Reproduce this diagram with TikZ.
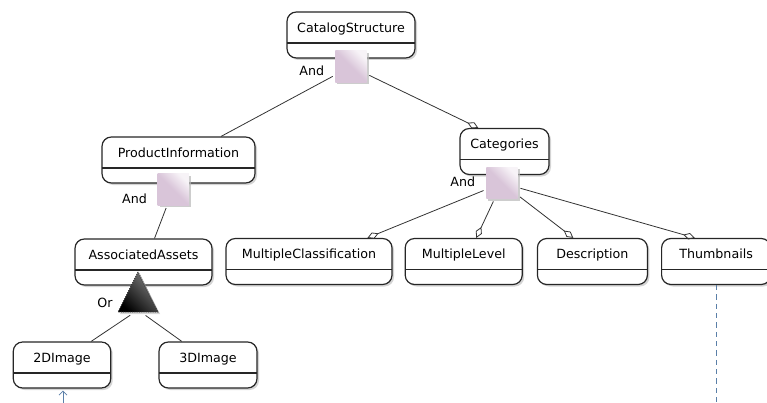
\documentclass[tikz,border=0pt]{standalone}
\usepackage{fontspec}
\setmainfont{DejaVu Sans}
\usepackage{tikz}
\usetikzlibrary{arrows.meta,positioning,shadows}
\definecolor{gatelilac}{HTML}{D9C5D9}
\definecolor{shadegrey}{HTML}{B8B8B8}
\definecolor{linkblue}{HTML}{5A7FA8}

\begin{document}
\begin{tikzpicture}[
  x=0.75pt,y=-0.75pt,
  node distance=5mm and 9.5pt,
  feature/.style={draw=black!85,line width=0.9pt,rounded corners=7pt,fill=white,
                  minimum height=34.5pt,text height=7.5pt,text depth=11.8pt,inner xsep=0pt,
                  font=\fontsize{9.5}{11}\selectfont,
                  drop shadow={shadow xshift=1.5pt,shadow yshift=-1.5pt,fill=shadegrey,opacity=0.6},
                  path picture={\draw[line width=0.9pt]
                    ([yshift=11.25pt]path picture bounding box.south west) --
                    ([yshift=11.25pt]path picture bounding box.south east);}},
  gate/.style={minimum size=23.5pt,inner sep=0pt,top color=gatelilac!20,bottom color=gatelilac,
               middle color=gatelilac,shading angle=-45,
               drop shadow={shadow xshift=1.5pt,shadow yshift=-1.5pt,fill=shadegrey,opacity=0.7}},
  orgate/.style={top color=black!50,bottom color=black,shading angle=-45,
                 draw=black!80,densely dotted,line width=0.7pt,
                 drop shadow={shadow xshift=1.5pt,shadow yshift=-1.5pt,fill=shadegrey,opacity=0.6}},
  gatelbl/.style={inner sep=0pt,font=\fontsize{9.5}{11}\selectfont},
  link/.style={draw=black!80,line width=0.6pt,shorten <=2pt},
  opt/.style={link,-{Diamond[open,length=9pt,width=5pt]}},
  dep/.style={draw=linkblue,line width=0.6pt}
]
\useasboundingbox (0,0) rectangle (767,403);

% root
\node[feature,minimum width=96pt] (cs) at (351,35) {CatalogStructure};
\node[gate,below=-6pt of cs] (sqCS) {};
\node[gatelbl,left=8pt of sqCS,yshift=-3pt] (andCS) {And};

% left branch
\node[feature,minimum width=114.75pt] (pi) at (178.5,160) {ProductInformation};
\node[gate,below=-7.5pt of pi,xshift=-4pt] (sqPI) {};
\node[gatelbl,left=7.5pt of sqPI,yshift=-6.75pt] (andPI) {And};
\node[feature,minimum width=102.75pt] (aa) at (143.5,262) {AssociatedAssets};
% or-group triangle
\coordinate (orTop) at (138,272);
\coordinate (orLeft) at (118,312);
\coordinate (orRight) at (158,312);
\coordinate (orAA) at (138,310);
\path[orgate] (orTop) -- (orLeft) -- (orRight) -- cycle;
\node[gatelbl] (orLbl) at (105,303) {Or};
\node[feature,minimum width=73.1pt] (img2) at (62,365) {2DImage};
\node[feature,minimum width=73.5pt] (img3) at (208,365) {3DImage};

% right branch
\node[feature,minimum width=66.75pt] (cat) at (504.5,151.5) {Categories};
\node[gate,below=-6pt of cat,xshift=-1.9pt] (sqCat) {};
\node[gatelbl,left=8pt of sqCat,yshift=0.75pt] (andCat) {And};
\node[feature,minimum width=124.5pt] (mc) at (309,261.5) {MultipleClassification};
\node[feature,minimum width=87.75pt,right=9pt of mc] (ml) {MultipleLevel};
\node[feature,minimum width=82.5pt,right=10.5pt of ml] (desc) {Description};
\node[feature,minimum width=81.75pt,right=9.75pt of desc] (thumb) {Thumbnails};

\draw[link] (sqCS) -- (pi.29);
\draw[opt] (sqCS) -- (cat.138);
\draw[link] (sqPI) -- (aa.65);
\draw[link,shorten <=7pt] (orAA) -- (img2.39);
\draw[link,shorten <=7pt] (orAA) -- (img3.138);
\draw[opt] (sqCat) -- (mc.22);
\draw[opt] (sqCat) -- (ml.62);
\draw[opt] (sqCat) -- (desc.129);
\draw[opt] (sqCat) -- (thumb.132);

% links leaving the picture
\coordinate (thumbOut) at (716,403);
\draw[dep,dash pattern=on 4pt off 3pt] (thumb.south -| thumbOut) -- (thumbOut);
\coordinate (img2In) at (63,403);
\draw[dep,-{Straight Barb[length=3pt,width=6pt]},shorten >=1.5pt] (img2In) -- (img2.south -| img2In);
\end{tikzpicture}
\end{document}
